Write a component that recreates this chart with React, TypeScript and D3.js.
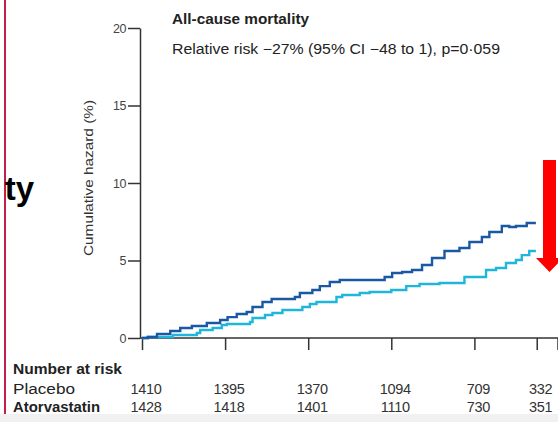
import React, { useEffect, useRef } from 'react';
import * as d3 from 'd3';

// Kaplan-Meier style cumulative hazard (years, %)
const placebo: [number, number][] = [
  [0, 0], [0.07, 0.06], [0.18, 0.26], [0.34, 0.45], [0.46, 0.65], [0.6, 0.77],
  [0.78, 0.97], [0.94, 1.16], [1.03, 1.35], [1.14, 1.55], [1.26, 1.68],
  [1.33, 2.0], [1.45, 2.32], [1.56, 2.52], [1.84, 2.65], [1.9, 2.9],
  [2.05, 3.1], [2.14, 3.35], [2.26, 3.61], [2.38, 3.74], [2.92, 3.94],
  [3.01, 4.19], [3.13, 4.26], [3.25, 4.39], [3.37, 4.71], [3.49, 5.16],
  [3.64, 5.61], [3.82, 5.81], [3.94, 6.19], [4.09, 6.52], [4.18, 6.84],
  [4.33, 7.23], [4.42, 7.16], [4.5, 7.23], [4.63, 7.42], [4.74, 7.42],
];

const atorvastatin: [number, number][] = [
  [0, 0], [0.07, 0.06], [0.37, 0.19], [0.66, 0.32], [0.7, 0.52], [0.85, 0.65],
  [0.96, 0.84], [1.02, 0.9], [1.3, 1.03], [1.33, 1.29], [1.48, 1.48],
  [1.57, 1.61], [1.69, 1.81], [1.93, 2.0], [2.02, 2.19], [2.1, 2.32],
  [2.34, 2.65], [2.41, 2.77], [2.62, 2.9], [2.74, 2.97], [3.0, 3.1],
  [3.18, 3.35], [3.34, 3.48], [3.58, 3.55], [3.88, 3.94], [4.14, 4.39],
  [4.26, 4.52], [4.38, 4.84], [4.5, 5.03], [4.57, 5.35], [4.66, 5.61],
  [4.74, 5.61],
];

const yTicks = [0, 5, 10, 15, 20];
const xTicks = [0, 1, 2, 3, 4, 4.75, 5];
const riskTimes = [0, 1, 2, 3, 4, 4.75];
const riskPlacebo = ['1410', '1395', '1370', '1094', '709', '332'];
const riskAtorva = ['1428', '1418', '1401', '1110', '730', '351'];

const FONT = "'Liberation Sans', Arial, sans-serif";

export default function App() {
  const svgRef = useRef<SVGSVGElement>(null);

  useEffect(() => {
    const width = 558;
    const height = 422;

    const svg = d3.select(svgRef.current);
    svg.selectAll('*').remove();
    svg.attr('width', width).attr('height', height);

    const x = d3.scaleLinear().domain([0, 5]).range([142, 557.5]);
    const y = d3.scaleLinear().domain([0, 20]).range([338, 28]);

    // page background bits
    svg.append('rect').attr('x', 0).attr('y', 0).attr('width', width).attr('height', height).attr('fill', '#fff');
    svg.append('rect').attr('x', 0).attr('y', 414).attr('width', width).attr('height', 8).attr('fill', '#f1f1f1');
    svg.append('line')
      .attr('x1', 5).attr('x2', 5).attr('y1', 0).attr('y2', 414)
      .attr('stroke', '#c41e4e').attr('stroke-width', 2);
    svg.append('text')
      .attr('x', 34).attr('y', 200)
      .attr('text-anchor', 'end')
      .attr('font-family', FONT)
      .attr('font-weight', 'bold')
      .attr('font-size', 33)
      .attr('fill', '#000')
      .text('ty');

    // y axis
    const yAxis = d3.axisLeft(y).tickValues(yTicks).tickSize(12).tickSizeOuter(0).tickPadding(2);
    const gy = svg.append('g').attr('transform', `translate(${x(0) - 2},0)`).call(yAxis);
    gy.selectAll('path, line').attr('stroke', '#333').attr('stroke-width', 1.5);
    gy.selectAll('text').attr('font-family', FONT).attr('font-size', 12.5).attr('fill', '#444')
      .attr('letter-spacing', -0.5);

    // x axis
    const xAxis = d3.axisBottom(x).tickValues(xTicks).tickSize(12).tickSizeOuter(0).tickFormat(() => '');
    const gx = svg.append('g').attr('transform', `translate(0,${y(0)})`).call(xAxis);
    gx.select('path').attr('d', `M${x(0) - 2},0H${width}`);
    gx.selectAll('path, line').attr('stroke', '#333').attr('stroke-width', 1.5);

    // y axis title
    svg.append('text')
      .attr('transform', `translate(93,178) rotate(-90)`)
      .attr('text-anchor', 'middle')
      .attr('font-family', FONT)
      .attr('font-size', 13.5)
      .attr('fill', '#333')
      .attr('textLength', 156)
      .attr('lengthAdjust', 'spacingAndGlyphs')
      .text('Cumulative hazard (%)');

    // curves
    const line = d3.line<[number, number]>()
      .x(d => x(d[0]))
      .y(d => y(d[1]))
      .curve(d3.curveStepAfter);

    svg.append('path').datum(atorvastatin)
      .attr('fill', 'none').attr('stroke', '#1fb6dc').attr('stroke-width', 2.4)
      .attr('d', line);
    svg.append('path').datum(placebo)
      .attr('fill', 'none').attr('stroke', '#1b58a4').attr('stroke-width', 2.4)
      .attr('d', line);

    // headings
    svg.append('text')
      .attr('x', 172).attr('y', 24)
      .attr('font-family', FONT).attr('font-weight', 'bold').attr('font-size', 14)
      .attr('fill', '#222')
      .attr('textLength', 137)
      .attr('lengthAdjust', 'spacingAndGlyphs')
      .text('All-cause mortality');
    svg.append('text')
      .attr('x', 172).attr('y', 54)
      .attr('font-family', FONT).attr('font-size', 14)
      .attr('fill', '#222')
      .attr('textLength', 328)
      .attr('lengthAdjust', 'spacingAndGlyphs')
      .text('Relative risk \u221227% (95% CI \u221248 to 1), p=0\u00b7059');

    // number at risk table
    svg.append('text')
      .attr('x', 13).attr('y', 374)
      .attr('font-family', FONT).attr('font-weight', 'bold').attr('font-size', 14)
      .attr('fill', '#222')
      .attr('textLength', 109)
      .attr('lengthAdjust', 'spacingAndGlyphs')
      .text('Number at risk');

    const rows = [
      { label: 'Placebo', values: riskPlacebo, yPos: 394, weight: 'normal', len: 62 },
      { label: 'Atorvastatin', values: riskAtorva, yPos: 412, weight: 'bold', len: 87 },
    ];
    rows.forEach(r => {
      svg.append('text')
        .attr('x', 13).attr('y', r.yPos)
        .attr('font-family', FONT).attr('font-size', 14).attr('font-weight', r.weight)
        .attr('fill', '#222')
        .attr('textLength', r.len)
        .attr('lengthAdjust', 'spacingAndGlyphs')
        .text(r.label);
      svg.selectAll(null)
        .data(r.values)
        .enter()
        .append('text')
        .attr('x', (_, i) => x(riskTimes[i]) + 4)
        .attr('y', r.yPos)
        .attr('text-anchor', 'middle')
        .attr('font-family', FONT).attr('font-size', 14.5)
        .attr('fill', '#333')
        .attr('letter-spacing', -0.3)
        .text(d => d);
    });

    // red arrow overlay
    const ax = 549.5;
    const arrow = d3.path();
    arrow.moveTo(ax - 6.5, 160);
    arrow.lineTo(ax + 6.5, 160);
    arrow.lineTo(ax + 6.5, 258);
    arrow.lineTo(ax + 13.5, 258);
    arrow.lineTo(ax, 272);
    arrow.lineTo(ax - 13.5, 258);
    arrow.lineTo(ax - 6.5, 258);
    arrow.closePath();
    svg.append('path').attr('d', arrow.toString()).attr('fill', '#ff0000');
  }, []);

  return (
    <div style={{ position: 'fixed', left: 0, top: 0 }}>
      <svg ref={svgRef} style={{ display: 'block' }}></svg>
    </div>
  );
}
